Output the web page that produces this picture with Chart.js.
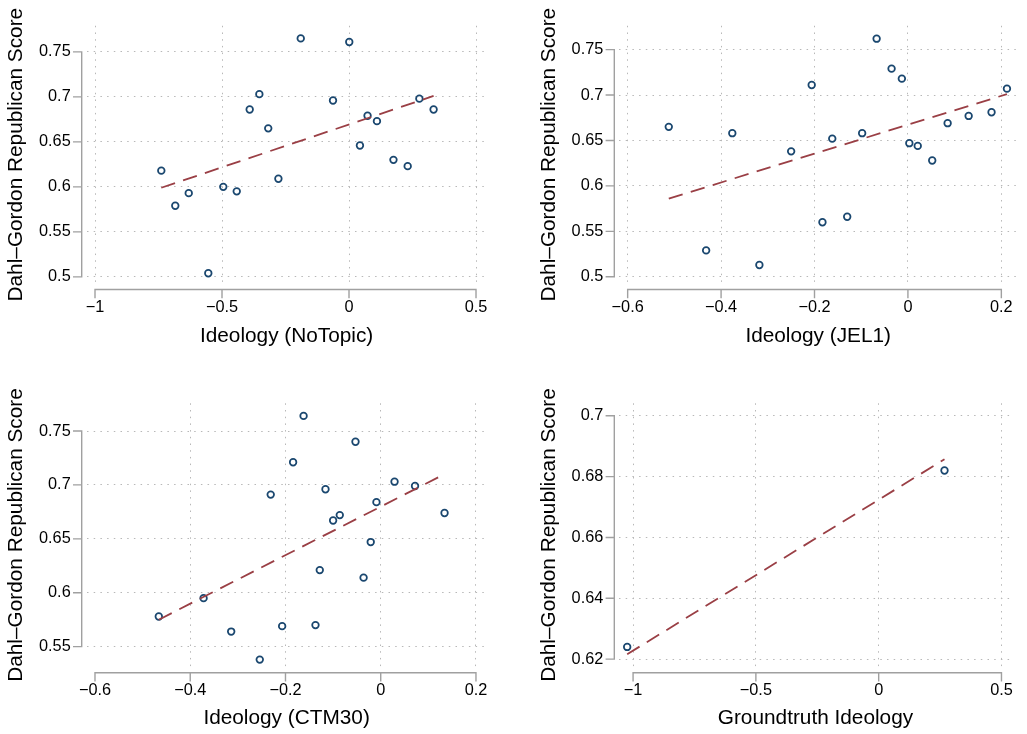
<!DOCTYPE html>
<html><head><meta charset="utf-8">
<script src="https://cdn.jsdelivr.net/npm/chart.js@4/dist/chart.umd.min.js"></script>
<style>
html,body{margin:0;padding:0;background:#fff;width:1027px;height:734px;overflow:hidden}
canvas{position:absolute}
</style></head><body>
<canvas id="c1" style="left:0;top:0" width="513" height="367"></canvas>
<canvas id="c2" style="left:513px;top:0" width="514" height="367"></canvas>
<canvas id="c3" style="left:0;top:367px" width="513" height="367"></canvas>
<canvas id="c4" style="left:513px;top:367px" width="514" height="367"></canvas>
<script>
// ---------- data ----------
const yTitle = 'Dahl–Gordon Republican Score';

const p1Title = 'Ideology (NoTopic)';
const p1X = [-0.739,-0.684,-0.631,-0.554,-0.495,-0.442,-0.391,-0.353,-0.318,-0.278,-0.190,-0.063,0.001,0.043,0.073,0.110,0.175,0.231,0.277,0.333];
const p1Y = [0.618,0.579,0.593,0.504,0.600,0.595,0.686,0.703,0.665,0.609,0.765,0.696,0.761,0.646,0.679,0.673,0.630,0.623,0.698,0.686];
const p1FitX = [-0.739, 0.333];
const p1FitY = [0.599, 0.701];
const p1XTicks = [-1, -0.5, 0, 0.5];
const p1YTicks = [0.5, 0.55, 0.6, 0.65, 0.7, 0.75];

const p2Title = 'Ideology (JEL1)';
const p2X = [-0.512,-0.432,-0.376,-0.318,-0.250,-0.206,-0.183,-0.162,-0.130,-0.098,-0.067,-0.035,-0.013,0.003,0.021,0.052,0.085,0.130,0.179,0.212];
const p2Y = [0.665,0.529,0.658,0.513,0.638,0.711,0.560,0.652,0.566,0.658,0.762,0.729,0.718,0.647,0.644,0.628,0.669,0.677,0.681,0.707];
const p2FitX = [-0.512, 0.212];
const p2FitY = [0.586, 0.701];
const p2XTicks = [-0.6, -0.4, -0.2, 0, 0.2];
const p2YTicks = [0.5, 0.55, 0.6, 0.65, 0.7, 0.75];

const p3Title = 'Ideology (CTM30)';
const p3X = [-0.466,-0.372,-0.314,-0.254,-0.231,-0.207,-0.184,-0.162,-0.137,-0.128,-0.116,-0.100,-0.086,-0.053,-0.036,-0.021,-0.009,0.029,0.072,0.134];
const p3Y = [0.578,0.595,0.564,0.538,0.691,0.569,0.721,0.764,0.570,0.621,0.696,0.667,0.672,0.740,0.614,0.647,0.684,0.703,0.699,0.674];
const p3FitX = [-0.466, 0.134];
const p3FitY = [0.575, 0.710];
const p3XTicks = [-0.6, -0.4, -0.2, 0, 0.2];
const p3YTicks = [0.55, 0.6, 0.65, 0.7, 0.75];

const p4Title = 'Groundtruth Ideology';
const p4X = [-1.024, 0.268];
const p4Y = [0.624, 0.682];
const p4FitX = [-1.024, 0.268];
const p4FitY = [0.6216, 0.6857];
const p4XTicks = [-1, -0.5, 0, 0.5];
const p4YTicks = [0.62, 0.64, 0.66, 0.68, 0.7];

// ---------- layout / style ----------
const FONT = "'Liberation Sans', Arial, Helvetica, sans-serif";
const NAVY = '#1a476f', MAROON = '#9a3f45', GRID = '#b8b8b8', AXIS = '#a0a0a0';

const stataAxes = {
  id: 'stataAxes',
  afterDraw(chart, args, opts) {
    const {ctx, chartArea: ca, scales: {x, y}} = chart;
    const xt = opts.xTicks, yt = opts.yTicks;
    ctx.save();
    ctx.strokeStyle = AXIS; ctx.lineWidth = 1.4; ctx.setLineDash([]); ctx.lineCap = 'square';
    ctx.beginPath();
    const ax = ca.left - 5;
    ctx.moveTo(ax, y.getPixelForValue(yt[0]));
    ctx.lineTo(ax, y.getPixelForValue(yt[yt.length - 1]));
    yt.forEach(v => { const p = y.getPixelForValue(v); ctx.moveTo(ax, p); ctx.lineTo(ax - 8, p); });
    const ay = ca.bottom + 6;
    ctx.moveTo(x.getPixelForValue(xt[0]), ay);
    ctx.lineTo(x.getPixelForValue(xt[xt.length - 1]), ay);
    xt.forEach(v => { const p = x.getPixelForValue(v); ctx.moveTo(p, ay); ctx.lineTo(p, ay + 8); });
    ctx.stroke();
    ctx.restore();
  }
};

const fmt = v => String(v).replace('-', '\u2212');

function makeChart(L, xs, ys, fx, fy, xt, yt, xTitle) {
  const pts = xs.map((x, i) => ({x, y: ys[i]}));
  const fit = fx.map((x, i) => ({x, y: fy[i]}));
  return new Chart(document.getElementById(L.id), {
    type: 'scatter',
    data: {datasets: [
      {type: 'line', data: fit, borderColor: MAROON, borderWidth: 1.8, borderDash: [14.5, 8.5],
       pointRadius: 0, fill: false, tension: 0, order: 0},
      {type: 'scatter', data: pts, pointStyle: 'circle', pointRadius: 3.3, borderWidth: 1.75,
       borderColor: NAVY, backgroundColor: 'rgba(0,0,0,0)', order: 1}
    ]},
    plugins: [stataAxes],
    options: {
      responsive: false, animation: false, events: [],
      layout: {padding: {left: 0, top: L.top, right: L.padRight, bottom: 0}},
      plugins: {legend: {display: false}, tooltip: {enabled: false},
                stataAxes: {xTicks: xt, yTicks: yt}},
      scales: {
        x: {type: 'linear', position: 'bottom', min: L.xMin, max: L.xMax,
            afterBuildTicks: s => { s.ticks = xt.map(v => ({value: v})); },
            afterFit: s => { s.height = L.xH; },
            ticks: {autoSkip: false, maxRotation: 0, padding: 14, color: '#000',
                    font: {family: FONT, size: 16.3}, callback: v => fmt(v)},
            grid: {drawTicks: false, lineWidth: 1,
                   color: c => (L.skipX.includes(c.tick && c.tick.value) ? 'rgba(0,0,0,0)' : GRID)},
            border: {display: false, dash: [1.5, 5.2]},
            title: {display: true, text: xTitle, color: '#000', font: {family: FONT, size: 20.8},
                    padding: {top: 0, bottom: L.xTitlePad}}},
        y: {type: 'linear', position: 'left', min: L.yMin, max: L.yMax,
            afterBuildTicks: s => { s.ticks = yt.map(v => ({value: v})); },
            afterFit: s => { s.width = L.caLeft; },
            ticks: {autoSkip: false, padding: 16, color: '#000',
                    font: {family: FONT, size: 16.3}, callback: v => fmt(v)},
            grid: {drawTicks: false, lineWidth: 1, color: GRID},
            border: {display: false, dash: [1.5, 5.2]},
            title: {display: true, text: yTitle, color: '#000', font: {family: FONT, size: 20.8},
                    padding: {top: L.yTitlePad, bottom: 0}}}
      }
    }
  });
}

const L1 = {id: 'c1', xMin: -1.0327, xMax: 0.5413, yMin: 0.4926, yMax: 0.7790,
            caLeft: 86.7, padRight: 26.5, top: 20, xH: 83.5, yTitlePad: 4, xTitlePad: 18, skipX: []};
const L2 = {id: 'c2', xMin: -0.6179, xMax: 0.2338, yMin: 0.4926, yMax: 0.7762,
            caLeft: 106.3, padRight: 8.5, top: 20, xH: 83.5, yTitlePad: 24, xTitlePad: 18, skipX: []};
const L3 = {id: 'c3', xMin: -0.6174, xMax: 0.2221, yMin: 0.5314, yMax: 0.7757,
            caLeft: 86.7, padRight: 26.5, top: 36.3, xH: 67.3, yTitlePad: 4, xTitlePad: 3, skipX: [-0.6]};
const L4 = {id: 'c4', xMin: -1.0561, xMax: 0.5413, yMin: 0.6175, yMax: 0.7041,
            caLeft: 106.3, padRight: 8, top: 36.3, xH: 67.3, yTitlePad: 24, xTitlePad: 3, skipX: []};

makeChart(L1, p1X, p1Y, p1FitX, p1FitY, p1XTicks, p1YTicks, p1Title);
makeChart(L2, p2X, p2Y, p2FitX, p2FitY, p2XTicks, p2YTicks, p2Title);
makeChart(L3, p3X, p3Y, p3FitX, p3FitY, p3XTicks, p3YTicks, p3Title);
makeChart(L4, p4X, p4Y, p4FitX, p4FitY, p4XTicks, p4YTicks, p4Title);
</script>
</body></html>
